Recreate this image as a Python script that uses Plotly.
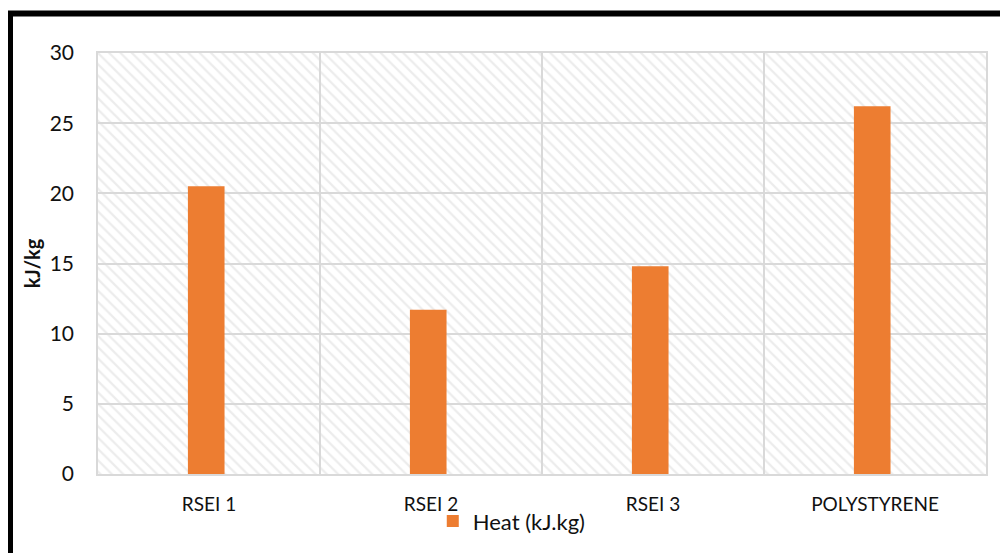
import plotly.graph_objects as go

categories = ["RSEI 1", "RSEI 2", "RSEI 3", "POLYSTYRENE"]
heat = [20.5, 11.7, 14.8, 26.2]
series_name = "Heat (kJ.kg)"
y_max = 30
y_step = 5
y_title = "kJ/kg"

FONT = "Lato"
GRID = "#d9d9d9"
TXT = "#111111"

# page body has an 8px margin, so the figure is 8px smaller than the window
W, H = 1000, 545
ML, MR, MT, MB = 90, 22, 45, 79
PW, PH = W - ML - MR, H - MT - MB

fig = go.Figure()

# hatched plot-area background spanning every category
fig.add_trace(go.Bar(
    x=[categories[0]], y=[y_max], width=[len(categories)], offset=-0.5,
    marker=dict(color="rgba(0,0,0,0)", line=dict(width=0),
                pattern=dict(shape="\\", fgcolor="#dadada", bgcolor="rgba(0,0,0,0)",
                             size=8, solidity=0.28, fillmode="overlay")),
    showlegend=False, hoverinfo="skip",
))

fig.add_trace(go.Bar(
    x=categories, y=heat, name=series_name,
    width=0.165, offset=-0.095,
    marker=dict(color="#ED7D31", line=dict(width=0)),
))

fig.update_layout(
    width=W, height=H,
    margin=dict(l=ML, r=MR, t=MT, b=MB, autoexpand=False),
    paper_bgcolor="white", plot_bgcolor="white",
    barmode="overlay",
    font=dict(family=FONT, size=20, color=TXT),
    showlegend=True,
    legend=dict(orientation="h", x=0.377, xanchor="left", y=-0.112, yanchor="middle",
                font=dict(family=FONT, size=22, color=TXT),
                bgcolor="rgba(0,0,0,0)", itemwidth=30),
    xaxis=dict(
        type="category", tickson="boundaries", showgrid=True, gridcolor=GRID, gridwidth=1.5,
        ticks="", showline=True, linecolor=GRID, linewidth=1.5, mirror=True,
        ticklabelstandoff=12, tickfont=dict(family=FONT, size=19, color=TXT),
        range=[-0.5, len(categories) - 0.5], fixedrange=True, automargin=False,
    ),
    yaxis=dict(
        range=[0, y_max], dtick=y_step, tick0=0, showgrid=True, gridcolor=GRID, gridwidth=1.5,
        zeroline=False, showline=True, linecolor=GRID, linewidth=1.5, mirror=True,
        ticks="", ticklabelstandoff=18, tickfont=dict(family=FONT, size=21, color=TXT),
        title=dict(text="<b>" + y_title + "</b>", font=dict(family=FONT, size=20, color=TXT),
                   standoff=4),
        fixedrange=True, automargin=False,
    ),
)

# thick black outer frame (runs off the right and bottom of the page)
fig.add_shape(type="rect", xref="paper", yref="paper",
              x0=(2 - ML) / PW, x1=2.0, y0=-2.0, y1=(MT + PH - 5.5) / PH,
              line=dict(color="black", width=6), fillcolor="rgba(0,0,0,0)", layer="above")

fig.write_html("out.html")
